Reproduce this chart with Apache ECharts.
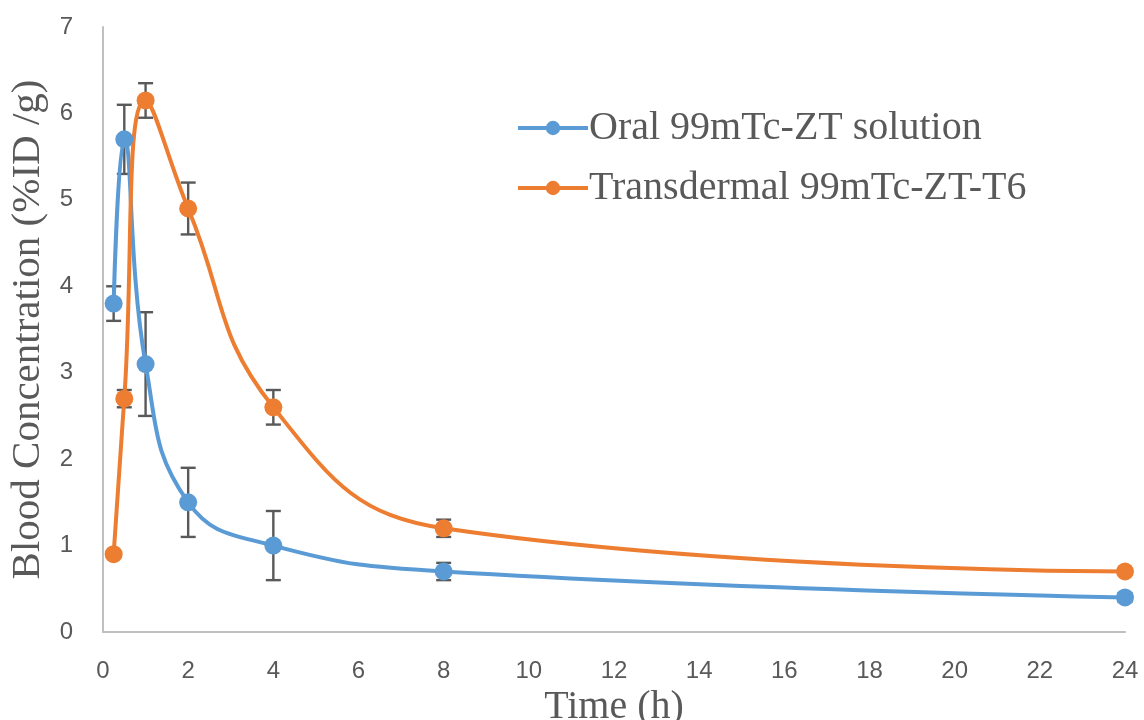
<!DOCTYPE html>
<html>
<head>
<meta charset="utf-8">
<script src="https://cdn.jsdelivr.net/npm/echarts@6/dist/echarts.min.js"></script>
<style>
html,body{margin:0;padding:0;background:#fff;}
#chart{width:1144px;height:720px;}
</style>
</head>
<body>
<div id="chart"></div>
<script>
const times = [0.25, 0.5, 1, 2, 4, 8, 24];
const oralMean = [3.8, 5.7, 3.1, 1.5, 1.0, 0.7, 0.4];
const oralErr = [0.2, 0.4, 0.6, 0.4, 0.4, 0.1, 0.05];
const transMean = [0.9, 2.7, 6.15, 4.9, 2.6, 1.2, 0.7];
const transErr = [0, 0.1, 0.2, 0.3, 0.2, 0.1, 0];
const seriesNames = ['Oral 99mTc-ZT solution', 'Transdermal 99mTc-ZT-T6'];
const xTicks = {min: 0, max: 24, interval: 2};
const yTicks = {min: 0, max: 7, interval: 1};

const blue = '#5B9BD5', orange = '#ED7D31', grey = '#595959';

function pts(mean) { return times.map((t, i) => [t, mean[i]]); }
function errData(mean, err) { return times.map((t, i) => [t, mean[i] - err[i], mean[i] + err[i]]); }

function errRender(params, api) {
  const x = api.value(0), lo = api.value(1), hi = api.value(2);
  if (hi - lo <= 0) return null;
  const p1 = api.coord([x, lo]), p2 = api.coord([x, hi]);
  const w = 7.5;
  const st = {stroke: grey, lineWidth: 2.4};
  return {
    type: 'group',
    children: [
      {type: 'line', shape: {x1: p1[0], y1: p1[1], x2: p2[0], y2: p2[1]}, style: st},
      {type: 'line', shape: {x1: p1[0] - w, y1: p1[1], x2: p1[0] + w, y2: p1[1]}, style: st},
      {type: 'line', shape: {x1: p2[0] - w, y1: p2[1], x2: p2[0] + w, y2: p2[1]}, style: st}
    ]
  };
}

const chart = echarts.init(document.getElementById('chart'));
chart.setOption({
  animation: false,
  backgroundColor: '#fff',
  grid: {left: 103, right: 19, top: 27, bottom: 88, containLabel: false, outerBoundsMode: 'none'},
  legend: {
    orient: 'vertical',
    left: 511, top: 103,
    itemWidth: 70, itemHeight: 18, itemGap: 20,
    data: seriesNames,
    lineStyle: {width: 4},
    textStyle: {fontFamily: 'Liberation Serif', fontSize: 40, color: grey, padding: [0, 0, 0, -4]}
  },
  xAxis: {
    type: 'value',
    min: xTicks.min, max: xTicks.max, interval: xTicks.interval,
    name: 'Time (h)', nameLocation: 'middle', nameGap: 48,
    nameTextStyle: {fontFamily: 'Liberation Serif', fontSize: 40, color: grey},
    axisLine: {lineStyle: {color: '#BFBFBF', width: 2}},
    axisTick: {show: false},
    splitLine: {show: false},
    axisLabel: {fontFamily: 'Liberation Sans', fontSize: 24, color: grey, margin: 27}
  },
  yAxis: {
    type: 'value',
    min: yTicks.min, max: yTicks.max, interval: yTicks.interval,
    name: 'Blood Concentration (%ID /g)', nameLocation: 'middle', nameGap: 51,
    nameTextStyle: {fontFamily: 'Liberation Serif', fontSize: 41, color: grey},
    axisLine: {show: true, lineStyle: {color: '#BFBFBF', width: 2}},
    axisTick: {show: false},
    splitLine: {show: false},
    axisLabel: {fontFamily: 'Liberation Sans', fontSize: 24, color: grey, margin: 30}
  },
  series: [
    {type: 'custom', name: 'errOral', renderItem: errRender, data: errData(oralMean, oralErr), z: 1, silent: true},
    {type: 'custom', name: 'errTrans', renderItem: errRender, data: errData(transMean, transErr), z: 1, silent: true},
    {
      name: seriesNames[0], type: 'line', data: pts(oralMean), smooth: 0.45,
      symbol: 'circle', symbolSize: 18, z: 3,
      lineStyle: {color: blue, width: 4}, itemStyle: {color: blue}
    },
    {
      name: seriesNames[1], type: 'line', data: pts(transMean), smooth: 0.45,
      symbol: 'circle', symbolSize: 18, z: 3,
      lineStyle: {color: orange, width: 4}, itemStyle: {color: orange}
    }
  ]
});
</script>
</body>
</html>
